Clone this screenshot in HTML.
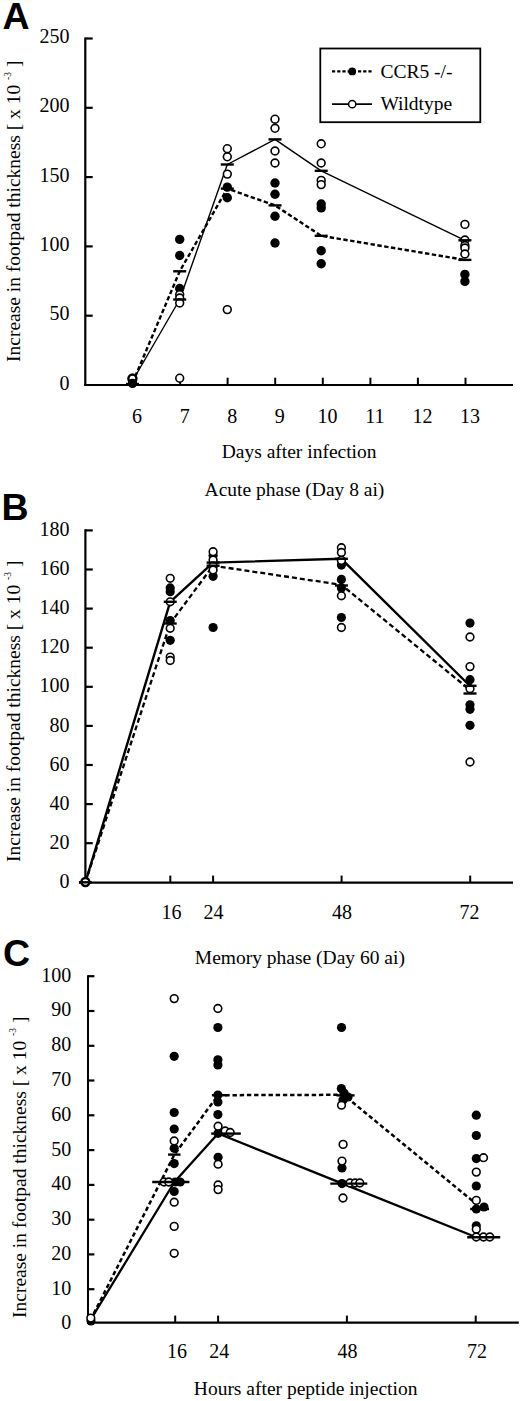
<!DOCTYPE html>
<html><head><meta charset="utf-8"><style>
html,body{margin:0;padding:0;background:#fff;}
svg{display:block;}
</style></head><body>
<svg width="520" height="1401" viewBox="0 0 520 1401">
<rect width="520" height="1401" fill="#fff"/>
<g style="font-family:&quot;Liberation Sans&quot;,sans-serif;font-weight:bold" stroke="none" fill="#000">
<text x="2.5" y="29" font-size="37.5">A</text>
<text x="1.5" y="520.4" font-size="37.5">B</text>
<text x="3" y="965.5" font-size="37.5">C</text>
</g>
<g stroke="#000" fill="none">
<line x1="85.3" y1="37.4" x2="85.3" y2="386.0" stroke-width="2.2" stroke-linecap="butt"/>
<line x1="84.2" y1="385.0" x2="513.0" y2="385.0" stroke-width="2.2" stroke-linecap="butt"/>
<line x1="85.3" y1="315.7" x2="92.7" y2="315.7" stroke-width="2.2" stroke-linecap="butt"/>
<line x1="85.3" y1="246.4" x2="92.7" y2="246.4" stroke-width="2.2" stroke-linecap="butt"/>
<line x1="85.3" y1="177.1" x2="92.7" y2="177.1" stroke-width="2.2" stroke-linecap="butt"/>
<line x1="85.3" y1="107.8" x2="92.7" y2="107.8" stroke-width="2.2" stroke-linecap="butt"/>
<line x1="85.3" y1="38.5" x2="92.7" y2="38.5" stroke-width="2.2" stroke-linecap="butt"/>
<line x1="132.5" y1="377.7" x2="132.5" y2="385.0" stroke-width="2" stroke-linecap="butt"/>
<line x1="180.1" y1="377.7" x2="180.1" y2="385.0" stroke-width="2" stroke-linecap="butt"/>
<line x1="227.6" y1="377.7" x2="227.6" y2="385.0" stroke-width="2" stroke-linecap="butt"/>
<line x1="275.2" y1="377.7" x2="275.2" y2="385.0" stroke-width="2" stroke-linecap="butt"/>
<line x1="322.8" y1="377.7" x2="322.8" y2="385.0" stroke-width="2" stroke-linecap="butt"/>
<line x1="370.4" y1="377.7" x2="370.4" y2="385.0" stroke-width="2" stroke-linecap="butt"/>
<line x1="417.9" y1="377.7" x2="417.9" y2="385.0" stroke-width="2" stroke-linecap="butt"/>
<line x1="465.5" y1="377.7" x2="465.5" y2="385.0" stroke-width="2" stroke-linecap="butt"/>
<rect x="320.3" y="48.5" width="160" height="73.7" stroke-width="1.8"/>
<line x1="332.0" y1="71.4" x2="372.0" y2="71.4" stroke-width="2.4" stroke-dasharray="3.2 2" stroke-linecap="butt"/>
<circle cx="352.2" cy="71.4" r="3.9" fill="#000" stroke="none"/>
<line x1="332.0" y1="104.2" x2="372.0" y2="104.2" stroke-width="1.8" stroke-linecap="butt"/>
<circle cx="352.2" cy="104.2" r="3.6" fill="#fff" stroke-width="1.5"/>
<polyline points="132.5,381.0 179.7,299.5 227.3,164.5 275.0,139.4 321.2,170.8 464.9,240.3" fill="none" stroke-width="1.4" stroke-linejoin="round"/>
<polyline points="132.5,383.0 179.7,271.3 227.3,188.6 275.0,205.4 321.2,235.8 464.9,259.9" fill="none" stroke-width="2.4" stroke-dasharray="4.4 2.5" stroke-linejoin="round"/>
<circle cx="132.4" cy="378.6" r="4.0" fill="#fff" stroke-width="2.5"/>
<circle cx="132.5" cy="383.4" r="4.7" fill="#000" stroke="none"/>
<line x1="126.0" y1="384.0" x2="139.0" y2="384.0" stroke-width="2.4" stroke-linecap="butt"/>
<line x1="126.0" y1="384.5" x2="139.0" y2="384.5" stroke-width="2.4" stroke-linecap="butt"/>
<circle cx="179.7" cy="239.4" r="4.7" fill="#000" stroke="none"/>
<circle cx="179.7" cy="255.5" r="4.7" fill="#000" stroke="none"/>
<circle cx="179.7" cy="288.5" r="4.7" fill="#000" stroke="none"/>
<circle cx="179.7" cy="294.5" r="3.9" fill="#fff" stroke-width="1.6"/>
<circle cx="179.7" cy="298.0" r="3.9" fill="#fff" stroke-width="1.6"/>
<circle cx="179.7" cy="303.0" r="3.9" fill="#fff" stroke-width="1.6"/>
<circle cx="179.7" cy="378.2" r="3.9" fill="#fff" stroke-width="1.6"/>
<line x1="173.2" y1="299.5" x2="186.2" y2="299.5" stroke-width="2.4" stroke-linecap="butt"/>
<line x1="173.2" y1="271.3" x2="186.2" y2="271.3" stroke-width="2.4" stroke-linecap="butt"/>
<circle cx="227.3" cy="187.1" r="4.7" fill="#000" stroke="none"/>
<circle cx="227.3" cy="197.7" r="4.7" fill="#000" stroke="none"/>
<circle cx="227.3" cy="148.7" r="3.9" fill="#fff" stroke-width="1.6"/>
<circle cx="227.3" cy="156.8" r="3.9" fill="#fff" stroke-width="1.6"/>
<circle cx="227.3" cy="174.1" r="3.9" fill="#fff" stroke-width="1.6"/>
<circle cx="227.3" cy="309.6" r="3.9" fill="#fff" stroke-width="1.6"/>
<line x1="220.8" y1="164.5" x2="233.8" y2="164.5" stroke-width="2.4" stroke-linecap="butt"/>
<line x1="220.8" y1="188.6" x2="233.8" y2="188.6" stroke-width="2.4" stroke-linecap="butt"/>
<circle cx="275.0" cy="183.0" r="4.7" fill="#000" stroke="none"/>
<circle cx="275.0" cy="194.2" r="4.7" fill="#000" stroke="none"/>
<circle cx="275.0" cy="216.3" r="4.7" fill="#000" stroke="none"/>
<circle cx="275.0" cy="243.0" r="4.7" fill="#000" stroke="none"/>
<circle cx="275.0" cy="119.2" r="3.9" fill="#fff" stroke-width="1.6"/>
<circle cx="275.0" cy="128.3" r="3.9" fill="#fff" stroke-width="1.6"/>
<circle cx="275.0" cy="151.0" r="3.9" fill="#fff" stroke-width="1.6"/>
<circle cx="275.0" cy="163.0" r="3.9" fill="#fff" stroke-width="1.6"/>
<line x1="268.5" y1="139.4" x2="281.5" y2="139.4" stroke-width="2.4" stroke-linecap="butt"/>
<line x1="268.5" y1="205.4" x2="281.5" y2="205.4" stroke-width="2.4" stroke-linecap="butt"/>
<circle cx="321.2" cy="204.0" r="4.7" fill="#000" stroke="none"/>
<circle cx="321.2" cy="207.9" r="4.7" fill="#000" stroke="none"/>
<circle cx="321.2" cy="250.8" r="4.7" fill="#000" stroke="none"/>
<circle cx="321.2" cy="263.7" r="4.7" fill="#000" stroke="none"/>
<circle cx="321.2" cy="143.8" r="3.9" fill="#fff" stroke-width="1.6"/>
<circle cx="321.2" cy="163.0" r="3.9" fill="#fff" stroke-width="1.6"/>
<circle cx="321.2" cy="180.4" r="3.9" fill="#fff" stroke-width="1.6"/>
<circle cx="321.2" cy="184.6" r="3.9" fill="#fff" stroke-width="1.6"/>
<line x1="314.7" y1="170.8" x2="327.7" y2="170.8" stroke-width="2.4" stroke-linecap="butt"/>
<line x1="314.7" y1="235.8" x2="327.7" y2="235.8" stroke-width="2.4" stroke-linecap="butt"/>
<circle cx="464.9" cy="274.4" r="4.7" fill="#000" stroke="none"/>
<circle cx="464.9" cy="281.4" r="4.7" fill="#000" stroke="none"/>
<circle cx="464.9" cy="224.4" r="3.9" fill="#fff" stroke-width="1.6"/>
<circle cx="464.9" cy="240.0" r="3.9" fill="#fff" stroke-width="1.6"/>
<circle cx="464.9" cy="245.5" r="3.9" fill="#fff" stroke-width="1.6"/>
<circle cx="464.9" cy="248.0" r="3.9" fill="#fff" stroke-width="1.6"/>
<circle cx="464.9" cy="254.0" r="3.9" fill="#fff" stroke-width="1.6"/>
<line x1="458.4" y1="240.3" x2="471.4" y2="240.3" stroke-width="2.4" stroke-linecap="butt"/>
<line x1="458.4" y1="259.9" x2="471.4" y2="259.9" stroke-width="2.4" stroke-linecap="butt"/>
<line x1="85.4" y1="529.3" x2="85.4" y2="883.0" stroke-width="2.2" stroke-linecap="butt"/>
<line x1="79.0" y1="882.7" x2="513.0" y2="882.7" stroke-width="2.2" stroke-linecap="butt"/>
<line x1="85.4" y1="843.2" x2="92.8" y2="843.2" stroke-width="2.2" stroke-linecap="butt"/>
<line x1="85.4" y1="804.1" x2="92.8" y2="804.1" stroke-width="2.2" stroke-linecap="butt"/>
<line x1="85.4" y1="765.0" x2="92.8" y2="765.0" stroke-width="2.2" stroke-linecap="butt"/>
<line x1="85.4" y1="725.9" x2="92.8" y2="725.9" stroke-width="2.2" stroke-linecap="butt"/>
<line x1="85.4" y1="686.8" x2="92.8" y2="686.8" stroke-width="2.2" stroke-linecap="butt"/>
<line x1="85.4" y1="647.7" x2="92.8" y2="647.7" stroke-width="2.2" stroke-linecap="butt"/>
<line x1="85.4" y1="608.6" x2="92.8" y2="608.6" stroke-width="2.2" stroke-linecap="butt"/>
<line x1="85.4" y1="569.5" x2="92.8" y2="569.5" stroke-width="2.2" stroke-linecap="butt"/>
<line x1="85.4" y1="530.4" x2="92.8" y2="530.4" stroke-width="2.2" stroke-linecap="butt"/>
<line x1="170.3" y1="875.6" x2="170.3" y2="882.7" stroke-width="2" stroke-linecap="butt"/>
<line x1="213.1" y1="875.6" x2="213.1" y2="882.7" stroke-width="2" stroke-linecap="butt"/>
<line x1="341.6" y1="875.6" x2="341.6" y2="882.7" stroke-width="2" stroke-linecap="butt"/>
<line x1="470.2" y1="875.6" x2="470.2" y2="882.7" stroke-width="2" stroke-linecap="butt"/>
<polyline points="85.4,882.3 170.2,601.8 213.1,562.6 341.4,558.8 470.0,686.0" fill="none" stroke-width="2.4" stroke-linejoin="round"/>
<polyline points="85.4,882.3 170.2,623.5 213.1,565.7 341.4,584.8 470.0,690.0" fill="none" stroke-width="2.3" stroke-dasharray="5 3" stroke-linejoin="round"/>
<circle cx="85.4" cy="882.0" r="4.0" fill="#fff" stroke-width="2.4"/>
<line x1="78.9" y1="882.3" x2="91.9" y2="882.3" stroke-width="2.4" stroke-linecap="butt"/>
<circle cx="170.2" cy="587.9" r="4.6" fill="#000" stroke="none"/>
<circle cx="170.2" cy="591.7" r="4.6" fill="#000" stroke="none"/>
<circle cx="170.2" cy="620.6" r="4.6" fill="#000" stroke="none"/>
<circle cx="170.2" cy="640.3" r="4.6" fill="#000" stroke="none"/>
<circle cx="170.2" cy="578.3" r="3.85" fill="#fff" stroke-width="1.6"/>
<circle cx="170.2" cy="601.8" r="3.85" fill="#fff" stroke-width="1.6"/>
<circle cx="170.2" cy="628.3" r="3.85" fill="#fff" stroke-width="1.6"/>
<circle cx="170.2" cy="657.1" r="3.85" fill="#fff" stroke-width="1.6"/>
<circle cx="170.2" cy="660.5" r="3.85" fill="#fff" stroke-width="1.6"/>
<line x1="163.7" y1="601.8" x2="176.7" y2="601.8" stroke-width="2.4" stroke-linecap="butt"/>
<line x1="163.7" y1="623.5" x2="176.7" y2="623.5" stroke-width="2.4" stroke-linecap="butt"/>
<circle cx="213.1" cy="555.6" r="4.6" fill="#000" stroke="none"/>
<circle cx="213.1" cy="576.3" r="4.6" fill="#000" stroke="none"/>
<circle cx="213.1" cy="627.5" r="4.6" fill="#000" stroke="none"/>
<circle cx="213.1" cy="551.7" r="3.85" fill="#fff" stroke-width="1.6"/>
<circle cx="213.1" cy="560.0" r="3.85" fill="#fff" stroke-width="1.6"/>
<circle cx="213.1" cy="566.0" r="3.85" fill="#fff" stroke-width="1.6"/>
<circle cx="213.1" cy="570.0" r="3.85" fill="#fff" stroke-width="1.6"/>
<line x1="206.6" y1="562.6" x2="219.6" y2="562.6" stroke-width="2.4" stroke-linecap="butt"/>
<line x1="206.6" y1="565.7" x2="219.6" y2="565.7" stroke-width="2.4" stroke-linecap="butt"/>
<circle cx="341.4" cy="565.1" r="4.6" fill="#000" stroke="none"/>
<circle cx="341.4" cy="579.4" r="4.6" fill="#000" stroke="none"/>
<circle cx="341.4" cy="587.9" r="4.6" fill="#000" stroke="none"/>
<circle cx="341.4" cy="617.5" r="4.6" fill="#000" stroke="none"/>
<circle cx="341.4" cy="547.7" r="3.85" fill="#fff" stroke-width="1.6"/>
<circle cx="341.4" cy="552.5" r="3.85" fill="#fff" stroke-width="1.6"/>
<circle cx="341.4" cy="560.4" r="3.85" fill="#fff" stroke-width="1.6"/>
<circle cx="341.4" cy="595.8" r="3.85" fill="#fff" stroke-width="1.6"/>
<circle cx="341.4" cy="627.5" r="3.85" fill="#fff" stroke-width="1.6"/>
<line x1="334.9" y1="558.8" x2="347.9" y2="558.8" stroke-width="2.4" stroke-linecap="butt"/>
<line x1="334.9" y1="585.5" x2="347.9" y2="585.5" stroke-width="2.4" stroke-linecap="butt"/>
<circle cx="470.0" cy="623.1" r="4.6" fill="#000" stroke="none"/>
<circle cx="470.0" cy="679.7" r="4.6" fill="#000" stroke="none"/>
<circle cx="470.0" cy="704.8" r="4.6" fill="#000" stroke="none"/>
<circle cx="470.0" cy="709.3" r="4.6" fill="#000" stroke="none"/>
<circle cx="470.0" cy="725.3" r="4.6" fill="#000" stroke="none"/>
<circle cx="470.0" cy="637.0" r="3.85" fill="#fff" stroke-width="1.6"/>
<circle cx="470.0" cy="666.6" r="3.85" fill="#fff" stroke-width="1.6"/>
<circle cx="470.0" cy="688.7" r="3.85" fill="#fff" stroke-width="1.6"/>
<circle cx="470.0" cy="762.0" r="3.85" fill="#fff" stroke-width="1.6"/>
<line x1="463.5" y1="685.8" x2="476.5" y2="685.8" stroke-width="2.4" stroke-linecap="butt"/>
<line x1="463.5" y1="693.5" x2="476.5" y2="693.5" stroke-width="2.4" stroke-linecap="butt"/>
<line x1="88.0" y1="975.2" x2="88.0" y2="1324.0" stroke-width="2.0" stroke-linecap="butt"/>
<line x1="87.0" y1="1322.6" x2="518.8" y2="1322.6" stroke-width="2.4" stroke-linecap="butt"/>
<line x1="88.0" y1="1289.2" x2="94.4" y2="1289.2" stroke-width="2.2" stroke-linecap="butt"/>
<line x1="88.0" y1="1254.4" x2="94.4" y2="1254.4" stroke-width="2.2" stroke-linecap="butt"/>
<line x1="88.0" y1="1219.7" x2="94.4" y2="1219.7" stroke-width="2.2" stroke-linecap="butt"/>
<line x1="88.0" y1="1184.9" x2="94.4" y2="1184.9" stroke-width="2.2" stroke-linecap="butt"/>
<line x1="88.0" y1="1150.1" x2="94.4" y2="1150.1" stroke-width="2.2" stroke-linecap="butt"/>
<line x1="88.0" y1="1115.3" x2="94.4" y2="1115.3" stroke-width="2.2" stroke-linecap="butt"/>
<line x1="88.0" y1="1080.5" x2="94.4" y2="1080.5" stroke-width="2.2" stroke-linecap="butt"/>
<line x1="88.0" y1="1045.8" x2="94.4" y2="1045.8" stroke-width="2.2" stroke-linecap="butt"/>
<line x1="88.0" y1="1011.0" x2="94.4" y2="1011.0" stroke-width="2.2" stroke-linecap="butt"/>
<line x1="88.0" y1="976.2" x2="94.4" y2="976.2" stroke-width="2.2" stroke-linecap="butt"/>
<line x1="175.2" y1="1315.6" x2="175.2" y2="1322.6" stroke-width="2" stroke-linecap="butt"/>
<line x1="218.1" y1="1315.6" x2="218.1" y2="1322.6" stroke-width="2" stroke-linecap="butt"/>
<line x1="346.9" y1="1315.6" x2="346.9" y2="1322.6" stroke-width="2" stroke-linecap="butt"/>
<line x1="475.7" y1="1315.6" x2="475.7" y2="1322.6" stroke-width="2" stroke-linecap="butt"/>
<polyline points="90.5,1320.0 174.4,1182.0 218.1,1133.5 342.5,1183.6 476.3,1237.3" fill="none" stroke-width="2.3" stroke-linejoin="round"/>
<polyline points="90.5,1320.0 174.4,1154.6 218.1,1095.2 343.5,1094.8 476.3,1204.0" fill="none" stroke-width="2.5" stroke-dasharray="4.4 2.8" stroke-linejoin="round"/>
<circle cx="91.0" cy="1321.0" r="4.6" fill="#000" stroke="none"/>
<circle cx="174.2" cy="1056.3" r="4.6" fill="#000" stroke="none"/>
<circle cx="174.2" cy="1112.5" r="4.6" fill="#000" stroke="none"/>
<circle cx="174.2" cy="1129.0" r="4.6" fill="#000" stroke="none"/>
<circle cx="174.2" cy="1148.3" r="4.6" fill="#000" stroke="none"/>
<circle cx="174.2" cy="1163.6" r="4.6" fill="#000" stroke="none"/>
<circle cx="175.2" cy="1182.0" r="4.6" fill="#000" stroke="none"/>
<circle cx="180.2" cy="1182.0" r="4.6" fill="#000" stroke="none"/>
<circle cx="174.2" cy="1191.5" r="4.6" fill="#000" stroke="none"/>
<circle cx="217.9" cy="1027.5" r="4.6" fill="#000" stroke="none"/>
<circle cx="217.9" cy="1059.8" r="4.6" fill="#000" stroke="none"/>
<circle cx="217.9" cy="1065.0" r="4.6" fill="#000" stroke="none"/>
<circle cx="217.9" cy="1095.0" r="4.6" fill="#000" stroke="none"/>
<circle cx="217.9" cy="1101.9" r="4.6" fill="#000" stroke="none"/>
<circle cx="217.9" cy="1114.6" r="4.6" fill="#000" stroke="none"/>
<circle cx="218.1" cy="1133.3" r="4.6" fill="#000" stroke="none"/>
<circle cx="218.1" cy="1157.3" r="4.6" fill="#000" stroke="none"/>
<circle cx="341.5" cy="1027.5" r="4.6" fill="#000" stroke="none"/>
<circle cx="341.3" cy="1088.5" r="4.6" fill="#000" stroke="none"/>
<circle cx="344.0" cy="1093.0" r="4.6" fill="#000" stroke="none"/>
<circle cx="348.0" cy="1097.0" r="4.6" fill="#000" stroke="none"/>
<circle cx="343.0" cy="1100.0" r="4.6" fill="#000" stroke="none"/>
<circle cx="342.0" cy="1168.0" r="4.6" fill="#000" stroke="none"/>
<circle cx="342.0" cy="1183.6" r="4.6" fill="#000" stroke="none"/>
<circle cx="476.3" cy="1115.2" r="4.6" fill="#000" stroke="none"/>
<circle cx="476.3" cy="1135.5" r="4.6" fill="#000" stroke="none"/>
<circle cx="476.3" cy="1158.6" r="4.6" fill="#000" stroke="none"/>
<circle cx="476.3" cy="1186.0" r="4.6" fill="#000" stroke="none"/>
<circle cx="476.3" cy="1209.0" r="4.6" fill="#000" stroke="none"/>
<circle cx="484.0" cy="1207.0" r="4.6" fill="#000" stroke="none"/>
<circle cx="476.3" cy="1225.8" r="4.6" fill="#000" stroke="none"/>
<circle cx="90.8" cy="1318.1" r="3.85" fill="#fff" stroke-width="1.6"/>
<circle cx="174.2" cy="998.6" r="3.85" fill="#fff" stroke-width="1.6"/>
<circle cx="174.2" cy="1141.0" r="3.85" fill="#fff" stroke-width="1.6"/>
<circle cx="164.0" cy="1182.0" r="3.85" fill="#fff" stroke-width="1.6"/>
<circle cx="168.7" cy="1182.0" r="3.85" fill="#fff" stroke-width="1.6"/>
<circle cx="174.2" cy="1202.2" r="3.85" fill="#fff" stroke-width="1.6"/>
<circle cx="174.2" cy="1226.4" r="3.85" fill="#fff" stroke-width="1.6"/>
<circle cx="174.2" cy="1253.3" r="3.85" fill="#fff" stroke-width="1.6"/>
<circle cx="217.9" cy="1008.5" r="3.85" fill="#fff" stroke-width="1.6"/>
<circle cx="218.1" cy="1126.2" r="3.85" fill="#fff" stroke-width="1.6"/>
<circle cx="225.2" cy="1131.0" r="3.85" fill="#fff" stroke-width="1.6"/>
<circle cx="230.2" cy="1132.5" r="3.85" fill="#fff" stroke-width="1.6"/>
<circle cx="218.1" cy="1164.2" r="3.85" fill="#fff" stroke-width="1.6"/>
<circle cx="218.1" cy="1185.0" r="3.85" fill="#fff" stroke-width="1.6"/>
<circle cx="218.1" cy="1189.6" r="3.85" fill="#fff" stroke-width="1.6"/>
<circle cx="341.5" cy="1105.2" r="3.85" fill="#fff" stroke-width="1.6"/>
<circle cx="343.1" cy="1144.4" r="3.85" fill="#fff" stroke-width="1.6"/>
<circle cx="342.0" cy="1161.1" r="3.85" fill="#fff" stroke-width="1.6"/>
<circle cx="350.0" cy="1183.0" r="3.85" fill="#fff" stroke-width="1.6"/>
<circle cx="355.2" cy="1183.0" r="3.85" fill="#fff" stroke-width="1.6"/>
<circle cx="359.8" cy="1183.0" r="3.85" fill="#fff" stroke-width="1.6"/>
<circle cx="343.0" cy="1198.0" r="3.85" fill="#fff" stroke-width="1.6"/>
<circle cx="483.5" cy="1157.7" r="3.85" fill="#fff" stroke-width="1.6"/>
<circle cx="476.3" cy="1172.1" r="3.85" fill="#fff" stroke-width="1.6"/>
<circle cx="476.3" cy="1200.4" r="3.85" fill="#fff" stroke-width="1.6"/>
<circle cx="476.3" cy="1229.2" r="3.85" fill="#fff" stroke-width="1.6"/>
<circle cx="476.3" cy="1237.0" r="3.85" fill="#fff" stroke-width="1.6"/>
<circle cx="483.5" cy="1237.0" r="3.85" fill="#fff" stroke-width="1.6"/>
<circle cx="489.8" cy="1237.0" r="3.85" fill="#fff" stroke-width="1.6"/>
<line x1="168.1" y1="1154.6" x2="180.5" y2="1154.6" stroke-width="2.4" stroke-linecap="butt"/>
<line x1="152.2" y1="1182.0" x2="189.4" y2="1182.0" stroke-width="2.4" stroke-linecap="butt"/>
<line x1="211.9" y1="1095.2" x2="226.9" y2="1095.2" stroke-width="2.4" stroke-linecap="butt"/>
<line x1="211.2" y1="1133.6" x2="240.8" y2="1133.6" stroke-width="2.4" stroke-linecap="butt"/>
<line x1="336.6" y1="1095.4" x2="354.6" y2="1095.4" stroke-width="2.4" stroke-linecap="butt"/>
<line x1="330.3" y1="1183.6" x2="367.3" y2="1183.6" stroke-width="2.4" stroke-linecap="butt"/>
<line x1="470.2" y1="1209.0" x2="489.0" y2="1209.0" stroke-width="2.4" stroke-linecap="butt"/>
<line x1="467.2" y1="1237.3" x2="500.2" y2="1237.3" stroke-width="2.4" stroke-linecap="butt"/>
</g>
<g style="font-family:&quot;Liberation Serif&quot;,serif" fill="#000" stroke="none">
<text x="69.6" y="389.6" font-size="20" text-anchor="end">0</text>
<text x="69.6" y="320.3" font-size="20" text-anchor="end">50</text>
<text x="69.6" y="251.0" font-size="20" text-anchor="end">100</text>
<text x="69.6" y="181.7" font-size="20" text-anchor="end">150</text>
<text x="69.6" y="112.4" font-size="20" text-anchor="end">200</text>
<text x="69.6" y="43.1" font-size="20" text-anchor="end">250</text>
<text x="137.1" y="423.2" font-size="20" text-anchor="middle">6</text>
<text x="184.7" y="423.2" font-size="20" text-anchor="middle">7</text>
<text x="232.2" y="423.2" font-size="20" text-anchor="middle">8</text>
<text x="279.8" y="423.2" font-size="20" text-anchor="middle">9</text>
<text x="327.4" y="423.2" font-size="20" text-anchor="middle">10</text>
<text x="375.0" y="423.2" font-size="20" text-anchor="middle">11</text>
<text x="422.5" y="423.2" font-size="20" text-anchor="middle">12</text>
<text x="470.1" y="423.2" font-size="20" text-anchor="middle">13</text>
<text x="221.7" y="458.2" font-size="19.5" text-anchor="start">Days after infection</text>
<text x="380.4" y="78.2" font-size="19.5" text-anchor="start">CCR5 -/-</text>
<text x="380.4" y="109.8" font-size="19.5" text-anchor="start">Wildtype</text>
<text x="69.4" y="887.9" font-size="20" text-anchor="end">0</text>
<text x="69.4" y="848.8" font-size="20" text-anchor="end">20</text>
<text x="69.4" y="809.7" font-size="20" text-anchor="end">40</text>
<text x="69.4" y="770.6" font-size="20" text-anchor="end">60</text>
<text x="69.4" y="731.5" font-size="20" text-anchor="end">80</text>
<text x="69.4" y="692.4" font-size="20" text-anchor="end">100</text>
<text x="69.4" y="653.3" font-size="20" text-anchor="end">120</text>
<text x="69.4" y="614.2" font-size="20" text-anchor="end">140</text>
<text x="69.4" y="575.1" font-size="20" text-anchor="end">160</text>
<text x="69.4" y="536.0" font-size="20" text-anchor="end">180</text>
<text x="171.4" y="918.8" font-size="20" text-anchor="middle">16</text>
<text x="213.5" y="918.8" font-size="20" text-anchor="middle">24</text>
<text x="342.0" y="918.8" font-size="20" text-anchor="middle">48</text>
<text x="469.5" y="918.8" font-size="20" text-anchor="middle">72</text>
<text x="204.6" y="496.4" font-size="19.5" text-anchor="start">Acute phase (Day 8 ai)</text>
<text x="71.3" y="1329.4" font-size="20" text-anchor="end">0</text>
<text x="71.3" y="1294.6" font-size="20" text-anchor="end">10</text>
<text x="71.3" y="1259.8" font-size="20" text-anchor="end">20</text>
<text x="71.3" y="1225.1" font-size="20" text-anchor="end">30</text>
<text x="71.3" y="1190.3" font-size="20" text-anchor="end">40</text>
<text x="71.3" y="1155.5" font-size="20" text-anchor="end">50</text>
<text x="71.3" y="1120.7" font-size="20" text-anchor="end">60</text>
<text x="71.3" y="1085.9" font-size="20" text-anchor="end">70</text>
<text x="71.3" y="1051.2" font-size="20" text-anchor="end">80</text>
<text x="71.3" y="1016.4" font-size="20" text-anchor="end">90</text>
<text x="71.3" y="981.6" font-size="20" text-anchor="end">100</text>
<text x="177.1" y="1357.8" font-size="20" text-anchor="middle">16</text>
<text x="219.2" y="1357.8" font-size="20" text-anchor="middle">24</text>
<text x="347.5" y="1357.8" font-size="20" text-anchor="middle">48</text>
<text x="476.9" y="1357.8" font-size="20" text-anchor="middle">72</text>
<text x="194.8" y="964.2" font-size="19.5" text-anchor="start">Memory phase (Day 60 ai)</text>
<text x="193.8" y="1395.4" font-size="19.5" text-anchor="start">Hours after peptide injection</text>
<text transform="translate(20.2,362) rotate(-90)" font-size="19.5">Increase in footpad thickness [ x 10 <tspan font-size="9.5" dy="-9.5">-3</tspan><tspan dy="9.5"> ]</tspan></text>
<text transform="translate(20.1,862) rotate(-90)" font-size="19.5">Increase in footpad thickness [ x 10 <tspan font-size="9.5" dy="-9.5">-3</tspan><tspan dy="9.5"> ]</tspan></text>
<text transform="translate(25.6,1318) rotate(-90)" font-size="19.5">Increase in footpad thickness [ x 10 <tspan font-size="9.5" dy="-9.5">-3</tspan><tspan dy="9.5"> ]</tspan></text>
</g>
</svg>
</body></html>
